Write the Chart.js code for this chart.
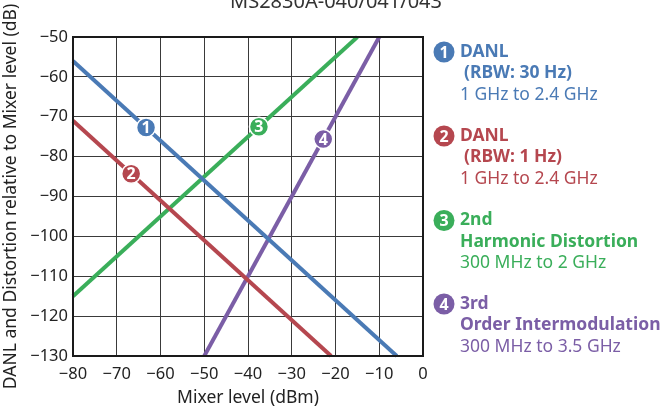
<!DOCTYPE html>
<html>
<head>
<meta charset="utf-8">
<script src="https://cdn.jsdelivr.net/npm/chart.js@4/dist/chart.umd.min.js"></script>
<style>
html,body{margin:0;padding:0;background:#fff;}
#wrap{width:667px;height:409px;position:relative;}
</style>
</head>
<body>
<div id="wrap"><canvas id="c" width="667" height="409"></canvas></div>
<script>
// ---- data ----
const chartTitle = "MS2830A-040/041/043";
const xTitle = "Mixer level (dBm)";
const yTitle = "DANL and Distortion relative to Mixer level (dB)";
const xTicks = [-80, -70, -60, -50, -40, -30, -20, -10, 0];
const yTicks = [-130, -120, -110, -100, -90, -80, -70, -60, -50];

const danl30X = [-80, -6];
const danl30Y = [-56, -130];
const danl1X = [-80, -21];
const danl1Y = [-71, -130];
const harm2X = [-80, -15];
const harm2Y = [-115, -50];
const im3X = [-50, -10];
const im3Y = [-130, -50];

const markerLabels = ["1", "2", "3", "4"];
const markerX = [-63.3, -66.7, -37.5, -22.8];
const markerY = [-72.7, -84.3, -72.5, -75.6];

const seriesColors = ["#4a7ab5", "#b5474f", "#3aae5a", "#7b5ea6"];
const legendLines = [
  [{t:"DANL", b:true, dx:0}, {t:"(RBW: 30 Hz)", b:true, dx:4}, {t:"1 GHz to 2.4 GHz", b:false, dx:0}],
  [{t:"DANL", b:true, dx:0}, {t:"(RBW: 1 Hz)", b:true, dx:4}, {t:"1 GHz to 2.4 GHz", b:false, dx:0}],
  [{t:"2nd", b:true, dx:0}, {t:"Harmonic Distortion", b:true, dx:0}, {t:"300 MHz to 2 GHz", b:false, dx:0}],
  [{t:"3rd", b:true, dx:0}, {t:"Order Intermodulation", b:true, dx:0}, {t:"300 MHz to 3.5 GHz", b:false, dx:0}]
];
const legendTops = [52, 136, 220.5, 304];

const FONT = "'Noto Sans', 'Open Sans', sans-serif";
Chart.defaults.font.family = FONT;
Chart.defaults.color = "#222";

function pts(xs, ys){ return xs.map((x,i)=>({x:x, y:ys[i]})); }
const fmt = v => (v < 0 ? "\u2212" + Math.abs(v) : String(v));

const lineDs = (xs, ys, col) => ({
  type:'line', data: pts(xs, ys), borderColor: col, borderWidth: 4,
  pointRadius: 0, fill:false, tension:0, clip: false, order: 2
});

const framePlugin = {
  id:'frame',
  afterDatasetsDraw(chart){
    const ctx = chart.ctx;
    const meta = chart.getDatasetMeta(4);
    ctx.save();
    ctx.fillStyle = "#fff";
    ctx.font = "bold 16px " + FONT;
    ctx.textAlign = "center"; ctx.textBaseline = "middle";
    meta.data.forEach((p,i)=>{ ctx.fillText(markerLabels[i], p.x, p.y + 1); });
    ctx.restore();
  },
  afterDraw(chart){
    const ctx = chart.ctx, a = chart.chartArea;
    ctx.save();
    ctx.strokeStyle = "#1a1a1a"; ctx.lineWidth = 2;
    ctx.strokeRect(a.left, a.top, a.right - a.left, a.bottom - a.top);
    // title (partly above canvas)
    ctx.fillStyle = "#333";
    ctx.font = "20px " + FONT;
    ctx.textAlign = "center"; ctx.textBaseline = "alphabetic";
    ctx.fillText(chartTitle, 336, 8);
    // legend
    for (let i=0;i<4;i++){
      const cy = legendTops[i];
      ctx.fillStyle = seriesColors[i];
      ctx.beginPath(); ctx.arc(444, cy, 10.5, 0, Math.PI*2); ctx.fill();
      ctx.fillStyle = "#fff";
      ctx.font = "bold 16px " + FONT;
      ctx.textAlign = "center"; ctx.textBaseline = "middle";
      ctx.fillText(String(i+1), 444, cy + 1);
      ctx.textAlign = "left";
      ctx.fillStyle = seriesColors[i];
      legendLines[i].forEach((ln, k)=>{
        ctx.font = (ln.b ? "bold " : "") + "17.5px " + FONT;
        ctx.fillText(ln.t, 460 + ln.dx, cy + k*21.5);
      });
    }
    ctx.restore();
  }
};

new Chart(document.getElementById('c'), {
  type: 'scatter',
  data: {
    datasets: [
      lineDs(danl30X, danl30Y, seriesColors[0]),
      lineDs(danl1X, danl1Y, seriesColors[1]),
      lineDs(harm2X, harm2Y, seriesColors[2]),
      lineDs(im3X, im3Y, seriesColors[3]),
      {
        type:'scatter', data: pts(markerX, markerY),
        pointRadius: 9.5, pointHoverRadius: 9.5,
        pointBackgroundColor: seriesColors, pointBorderColor: "#fff", pointBorderWidth: 1.5,
        order: 1
      }
    ]
  },
  options: {
    responsive: false, animation: false, devicePixelRatio: 1,
    events: [],
    layout: { padding: { top: 37, right: 244, left: 0, bottom: 0 } },
    plugins: { legend: {display:false}, tooltip:{enabled:false}, title:{display:false} },
    scales: {
      x: {
        type:'linear', min:-80, max:0,
        afterBuildTicks: s => { s.ticks = xTicks.map(v=>({value:v})); },
        afterFit: s => { s.height = 53; },
        grid: { color:"#3a3a3a", lineWidth:1, drawTicks:false },
        border: { display:false },
        ticks: { padding: 8, color:"#222", font:{size:16.5}, callback: v => fmt(v), maxRotation:0, autoSkip:false },
        title: { display:true, text:xTitle, color:"#222", font:{size:17.5}, padding:{top:0,bottom:0} }
      },
      y: {
        type:'linear', min:-130, max:-50,
        afterBuildTicks: s => { s.ticks = yTicks.map(v=>({value:v})); },
        afterFit: s => { s.width = 73; },
        grid: { color:"#3a3a3a", lineWidth:1, drawTicks:false },
        border: { display:false },
        ticks: { padding: 5, color:"#222", font:{size:16.5}, callback: v => fmt(v), autoSkip:false },
        title: { display:true, text:yTitle, color:"#222", font:{size:17.5}, padding:{top:1,bottom:0} }
      }
    }
  },
  plugins: [framePlugin]
});
</script>
</body>
</html>
